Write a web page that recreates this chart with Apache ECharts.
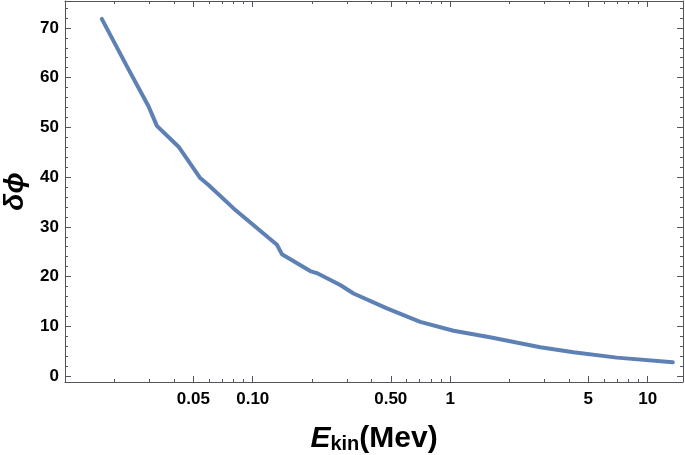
<!DOCTYPE html>
<html lang="en">
<head>
<meta charset="utf-8">
<title>delta phi vs E_kin</title>
<script src="https://cdn.jsdelivr.net/npm/echarts@6/dist/echarts.min.js"></script>
<style>
  html, body { margin: 0; padding: 0; background: #fff; }
  #main { width: 685px; height: 455px; }
</style>
</head>
<body>
<div id="main"></div>
<script>
// values
var energy = [0.0172, 0.0231, 0.0297, 0.0327, 0.0421, 0.0542, 0.0597, 0.080, 0.1326, 0.1405,
              0.1955, 0.211, 0.2774, 0.324, 0.478, 0.705, 1.04, 1.59, 2.86, 4.21, 6.98, 13.4];
var dphi = [71.8, 62.2, 54.2, 50.3, 46.1, 39.8, 38.4, 33.7, 26.4, 24.5,
            21.1, 20.7, 18.3, 16.6, 13.6, 10.9, 9.1, 7.8, 5.8, 4.8, 3.7, 2.76];

var xLabelValues = [0.05, 0.1, 0.5, 1, 5, 10];
var xLabelTexts = ['0.05', '0.10', '0.50', '1', '5', '10'];
// mantissas of the tick rows on the log axis: 1 and 5 long, the rest short
var xMantissa = [1, 5, 2, 3, 4, 6, 7, 8, 9];

var font = 'Liberation Sans, Arial, DejaVu Sans, sans-serif';
var xMin = 0.0112, xMax = 15.1, yMin = -1.2, yMax = 75.4;

var points = [];
for (var i = 0; i < energy.length; i++) points.push([energy[i], dphi[i]]);

// one grid per tick row, all on the same rectangle.
// a log axis stretched by 10/m puts its decade ticks on m*10^k of the main one
var grids = [], xAxes = [], yAxes = [];
xMantissa.forEach(function (m, g) {
    var f = m === 1 ? 1 : 10 / m;
    var len = (m === 1 || m === 5) ? 6 : 3;
    grids.push({ left: 65, right: 2, top: 1, bottom: 73, outerBoundsMode: 'none' });
    ['bottom', 'top'].forEach(function (pos) {
        xAxes.push({
            gridIndex: g, type: 'log', position: pos, min: xMin * f, max: xMax * f,
            axisLine: { show: g === 0, onZero: false },
            axisTick: { show: true, inside: true, length: len },
            axisLabel: { show: false },
            splitLine: { show: false }
        });
    });
    if (g < 2) {
        // grid 0: y ticks every 10, grid 1: every 2
        ['left', 'right'].forEach(function (pos) {
            yAxes.push({
                gridIndex: g, type: 'value', position: pos, min: yMin, max: yMax,
                splitNumber: g === 0 ? 8 : 38,
                axisLine: { show: g === 0, onZero: false },
                axisTick: { show: true, inside: true, length: g === 0 ? 6 : 3 },
                axisLabel: { show: false },
                splitLine: { show: false }
            });
        });
    } else {
        yAxes.push({ gridIndex: g, type: 'value', min: yMin, max: yMax, show: false });
    }
});

function xLabel(scale) {
    return {
        show: true, margin: 9, showMinLabel: false, showMaxLabel: false,
        color: '#000', fontSize: 17, fontWeight: 'bold', fontFamily: font,
        formatter: function (v) {
            var e = v / scale;
            for (var k = 0; k < xLabelValues.length; k++) {
                if (Math.abs(e / xLabelValues[k] - 1) < 1e-6) return xLabelTexts[k];
            }
            return '';
        }
    };
}

// bottom axis of grid 0 (10^k) and of grid 1 (5*10^k) carry the labels
xAxes[0].axisLabel = xLabel(1);
xAxes[2].axisLabel = xLabel(2);
xAxes[0].name = '{e|E}{s|kin}{m|(Mev)}';
xAxes[0].nameLocation = 'middle';
xAxes[0].nameGap = 42;
xAxes[0].nameTextStyle = {
    color: '#000',
    rich: {
        e: { fontSize: 30, fontWeight: 'bold', fontStyle: 'italic', fontFamily: font, color: '#000', verticalAlign: 'bottom' },
        s: { fontSize: 20, fontWeight: 'bold', fontFamily: font, color: '#000', verticalAlign: 'bottom' },
        m: { fontSize: 30, fontWeight: 'bold', fontFamily: font, color: '#000', verticalAlign: 'bottom' }
    }
};

yAxes[0].axisLabel = {
    show: true, margin: 6, showMinLabel: false, showMaxLabel: false,
    color: '#000', fontSize: 17, fontWeight: 'bold', fontFamily: font
};
yAxes[0].name = 'δϕ';
yAxes[0].nameLocation = 'middle';
yAxes[0].nameRotate = 90;
yAxes[0].nameGap = 33;
yAxes[0].nameTextStyle = {
    color: '#000', fontSize: 28, fontWeight: 'bold', fontStyle: 'italic', fontFamily: font
};

var myChart = echarts.init(document.getElementById('main'));
myChart.setOption({
    backgroundColor: '#fff',
    animation: false,
    grid: grids,
    xAxis: xAxes,
    yAxis: yAxes,
    series: [{
        type: 'line',
        xAxisIndex: 0,
        yAxisIndex: 0,
        data: points,
        showSymbol: false,
        lineStyle: { color: '#5e81b5', width: 4, cap: 'round', join: 'round' }
    }]
});
</script>
</body>
</html>
